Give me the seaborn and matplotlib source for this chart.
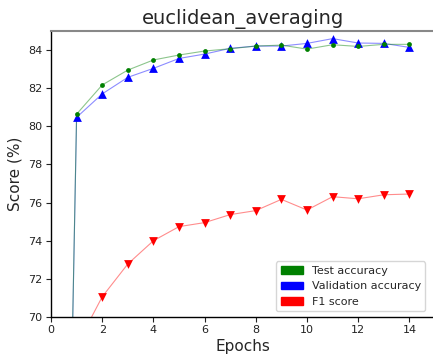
import matplotlib
matplotlib.use("Agg")
import matplotlib.pyplot as plt
import matplotlib.patches as mpatches
import seaborn as sns
import pandas as pd

sns.set_style("ticks")
plt.rcParams['font.family'] = ['DejaVu Sans']

epochs = list(range(0, 15))
test_acc = [10.0, 80.64, 82.17, 82.95, 83.48, 83.74, 83.95, 84.07, 84.21, 84.26,
            84.05, 84.28, 84.19, 84.30, 84.30]
val_acc = [10.0, 80.47, 81.70, 82.57, 83.04, 83.56, 83.79, 84.09, 84.21, 84.21,
           84.35, 84.60, 84.37, 84.35, 84.14]
f1_epochs = list(range(1, 15))
f1_score = [68.5, 71.06, 72.78, 74.00, 74.74, 74.95, 75.37, 75.58, 76.17, 75.61,
            76.31, 76.20, 76.41, 76.45]

df_acc = pd.DataFrame({"epoch": epochs, "test": test_acc, "val": val_acc})
df_f1 = pd.DataFrame({"epoch": f1_epochs, "f1": f1_score})

fig = plt.figure(figsize=(4.33, 3.61), dpi=100)
ax = fig.add_axes([51/433, 1 - 317/361, (435 - 51)/433, (317 - 31)/361])

sns.lineplot(data=df_acc, x="epoch", y="val", color="blue", alpha=0.45, linewidth=0.8, ax=ax)
sns.lineplot(data=df_acc, x="epoch", y="test", color="green", alpha=0.45, linewidth=0.8, ax=ax)
sns.lineplot(data=df_f1, x="epoch", y="f1", color="red", alpha=0.45, linewidth=0.8, ax=ax)

sub = df_acc[df_acc.epoch >= 1]
sns.scatterplot(data=sub, x="epoch", y="val", color="blue", marker="^", s=40, linewidth=0, ax=ax, zorder=3)
sns.scatterplot(data=sub, x="epoch", y="test", color="green", marker="o", s=12, linewidth=0, ax=ax, zorder=4)
sns.scatterplot(data=df_f1, x="epoch", y="f1", color="red", marker="v", s=40, linewidth=0, ax=ax, zorder=3)

ax.set_xlim(0, 15)
ax.set_ylim(70, 85)
ax.set_xticks(range(0, 15, 2))
ax.set_yticks(range(70, 85, 2))
ax.tick_params(labelsize=8, length=3.5, width=0.8, colors="#222222", pad=2.5)
ax.set_xlabel("Epochs", fontsize=11, labelpad=3)
ax.set_ylabel("Score (%)", fontsize=11, labelpad=4)
ax.set_title("euclidean_averaging", fontsize=14, pad=5)

for s in ["left", "bottom"]:
    ax.spines[s].set_color("black")
    ax.spines[s].set_linewidth(1.0)
ax.spines["top"].set_color("#888888")
ax.spines["top"].set_linewidth(1.5)
ax.spines["right"].set_visible(False)

handles = [mpatches.Patch(color="green", label="Test accuracy"),
           mpatches.Patch(color="blue", label="Validation accuracy"),
           mpatches.Patch(color="red", label="F1 score")]
ax.legend(handles=handles, loc="lower right", fontsize=8, frameon=True,
          bbox_to_anchor=((431 - 51) / 384, 0.0))

fig.savefig("out.png", dpi=100)
